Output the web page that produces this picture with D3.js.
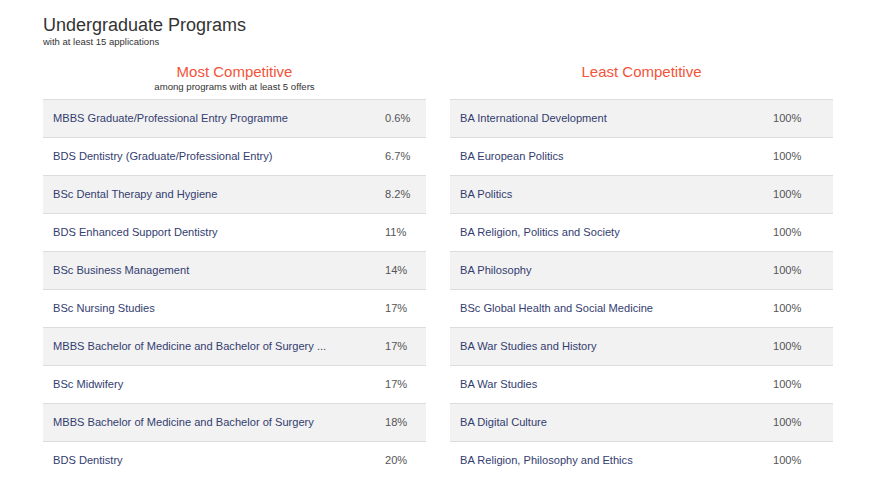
<!DOCTYPE html>
<html>
<head>
<meta charset="utf-8">
<script src="https://cdn.jsdelivr.net/npm/d3@7"></script>
<style>
  html, body { margin: 0; padding: 0; background: #fff; }
  svg { display: block; font-family: "Liberation Sans", Arial, sans-serif; }
</style>
</head>
<body>
<svg id="chart" width="878" height="486"></svg>
<script>
const title = "Undergraduate Programs";
const subtitle = "with at least 15 applications";

const mostTitle = "Most Competitive";
const mostSub = "among programs with at least 5 offers";
const mostPrograms = [
  "MBBS Graduate/Professional Entry Programme",
  "BDS Dentistry (Graduate/Professional Entry)",
  "BSc Dental Therapy and Hygiene",
  "BDS Enhanced Support Dentistry",
  "BSc Business Management",
  "BSc Nursing Studies",
  "MBBS Bachelor of Medicine and Bachelor of Surgery ...",
  "BSc Midwifery",
  "MBBS Bachelor of Medicine and Bachelor of Surgery",
  "BDS Dentistry"
];
const mostRates = ["0.6%", "6.7%", "8.2%", "11%", "14%", "17%", "17%", "17%", "18%", "20%"];

const leastTitle = "Least Competitive";
const leastPrograms = [
  "BA International Development",
  "BA European Politics",
  "BA Politics",
  "BA Religion, Politics and Society",
  "BA Philosophy",
  "BSc Global Health and Social Medicine",
  "BA War Studies and History",
  "BA War Studies",
  "BA Digital Culture",
  "BA Religion, Philosophy and Ethics"
];
const leastRates = ["100%", "100%", "100%", "100%", "100%", "100%", "100%", "100%", "100%", "100%"];

const svg = d3.select("#chart");

svg.append("text").attr("x", 43).attr("y", 31)
  .attr("font-size", 18).attr("fill", "#333").text(title);
svg.append("text").attr("x", 43).attr("y", 45)
  .attr("font-size", 9.5).attr("fill", "#333").text(subtitle);

function drawTable(x0, width, head, sub, programs, rates, pctX) {
  const g = svg.append("g").attr("transform", `translate(${x0},0)`);
  g.append("text").attr("x", width / 2).attr("y", 77)
    .attr("text-anchor", "middle").attr("font-size", 15)
    .attr("fill", "#f4533a").text(head);
  if (sub) {
    g.append("text").attr("x", width / 2).attr("y", 90)
      .attr("text-anchor", "middle").attr("font-size", 9.6)
      .attr("fill", "#333").text(sub);
  }
  const y = d3.scaleBand().domain(d3.range(programs.length)).range([99, 99 + 38 * programs.length]);
  const rows = g.selectAll("g.row").data(programs).join("g")
    .attr("class", "row")
    .attr("transform", (d, i) => `translate(0,${y(i)})`);
  rows.append("rect").attr("width", width).attr("height", y.bandwidth())
    .attr("fill", (d, i) => i % 2 === 0 ? "#f2f2f2" : "#fff");
  rows.append("line").attr("x1", 0).attr("x2", width).attr("y1", 0.5).attr("y2", 0.5)
    .attr("stroke", "#dcdcdc").attr("stroke-width", 1);
  rows.append("text").attr("x", 10).attr("y", y.bandwidth() / 2 + 4)
    .attr("font-size", 11.1).attr("fill", "#333d70").text(d => d);
  rows.append("text").attr("x", pctX).attr("y", y.bandwidth() / 2 + 4)
    .attr("font-size", 11.1).attr("fill", "#555").text((d, i) => rates[i]);
}

drawTable(43, 383, mostTitle, mostSub, mostPrograms, mostRates, 342);
drawTable(450, 383, leastTitle, null, leastPrograms, leastRates, 323);
</script>
</body>
</html>
